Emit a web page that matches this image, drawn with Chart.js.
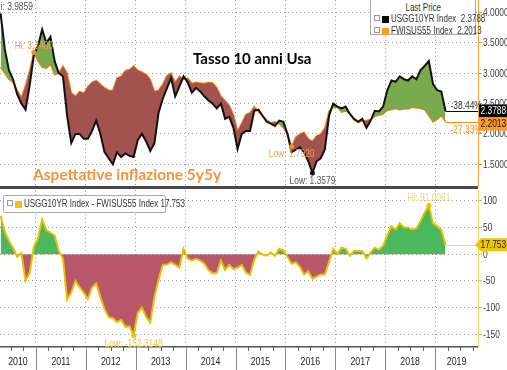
<!DOCTYPE html>
<html>
<head>
<meta charset="utf-8">
<script src="https://cdn.jsdelivr.net/npm/chart.js@4.4.1/dist/chart.umd.min.js"></script>
<style>
  body { margin: 0; background: #fff; width: 507px; height: 370px; overflow: hidden; position: relative; }
  canvas { position: absolute; left: 0; }
  #topChart { top: 0; }
  #botChart { top: 190px; }
  .t { font-family: 'Liberation Sans', Arial, sans-serif; font-size: 10px; color: #333; }
  .sep { position: absolute; left: 0; top: 186px; width: 478px; height: 3px; background: #4a4a4a; }
  .box { position: absolute; background: #fff; border: 1px solid #a8a8a8; box-sizing: border-box; }
  .row { height: 12px; line-height: 12px; white-space: nowrap; padding-left: 3px; }
  .pl { display: inline-block; width: 4px; height: 4px; border: 1px solid #999; margin-right: 2px; vertical-align: 1px; }
  .sq { display: inline-block; width: 7px; height: 7px; margin-right: 2px; vertical-align: -1px; }
  .nar { display: inline-block; transform: scaleX(0.8); transform-origin: left center; }
  .title { position: absolute; font-family: Lato, 'Open Sans', sans-serif; font-weight: bold; white-space: nowrap; }
</style>
</head>
<body>
<canvas id="topChart" width="507" height="186"></canvas>
<canvas id="botChart" width="507" height="180"></canvas>
<div class="sep"></div>

<div class="box t" style="left:370px;top:-1px;width:106px;height:36px;">
  <div style="text-align:center;margin-top:2px;height:11px;line-height:11px;"><span class="nar" style="transform-origin:center">Last Price</span></div>
  <div class="row"><span class="pl"></span><span class="sq" style="background:#000"></span><span id="lgA" class="nar"></span></div>
  <div class="row"><span class="pl"></span><span class="sq" style="background:#ff9a1e"></span><span id="lgB" class="nar"></span></div>
</div>
<div class="box t" style="left:3px;top:195px;width:163px;height:18px;border-radius:2px;">
  <div class="row" style="line-height:16px;height:16px;"><span class="pl"></span><span class="sq" style="background:#f0c400"></span><span id="lgC" class="nar"></span></div>
</div>

<div class="title" style="left:193px;top:49px;font-size:15px;color:#000;">Tasso 10 anni Usa</div>
<div class="title" style="left:33px;top:165px;font-size:15.5px;color:#f7923a;">Aspettative inflazione 5y5y</div>

<script>
// monthly observations, April 2010 - March 2019
const months = [
  '2010-04','2010-05','2010-06','2010-07','2010-08','2010-09','2010-10','2010-11','2010-12',
  '2011-01','2011-02','2011-03','2011-04','2011-05','2011-06','2011-07','2011-08','2011-09','2011-10','2011-11','2011-12',
  '2012-01','2012-02','2012-03','2012-04','2012-05','2012-06','2012-07','2012-08','2012-09','2012-10','2012-11','2012-12',
  '2013-01','2013-02','2013-03','2013-04','2013-05','2013-06','2013-07','2013-08','2013-09','2013-10','2013-11','2013-12',
  '2014-01','2014-02','2014-03','2014-04','2014-05','2014-06','2014-07','2014-08','2014-09','2014-10','2014-11','2014-12',
  '2015-01','2015-02','2015-03','2015-04','2015-05','2015-06','2015-07','2015-08','2015-09','2015-10','2015-11','2015-12',
  '2016-01','2016-02','2016-03','2016-04','2016-05','2016-06','2016-07','2016-08','2016-09','2016-10','2016-11','2016-12',
  '2017-01','2017-02','2017-03','2017-04','2017-05','2017-06','2017-07','2017-08','2017-09','2017-10','2017-11','2017-12',
  '2018-01','2018-02','2018-03','2018-04','2018-05','2018-06','2018-07','2018-08','2018-09','2018-10','2018-11','2018-12',
  '2019-01','2019-02','2019-03'
];

// USGG10YR Index (10y US Treasury yield, %)
const usgg10yr = [
  3.9859, 3.40, 3.05, 2.90, 2.65, 2.50, 2.40, 2.80, 3.30,
  3.45, 3.72, 3.50, 3.60, 3.20, 3.00, 2.95, 2.30, 1.85, 2.00, 2.00, 1.92,
  1.92, 2.05, 2.22, 2.00, 1.70, 1.60, 1.50, 1.70, 1.62, 1.68, 1.64, 1.62,
  1.90, 2.00, 1.88, 1.72, 1.85, 2.35, 2.58, 2.75, 2.92, 2.62, 2.78, 2.95,
  2.85, 2.68, 2.76, 2.70, 2.62, 2.55, 2.50, 2.42, 2.50, 2.25, 2.28, 2.10,
  1.75, 2.00, 2.05, 2.05, 2.38, 2.40, 2.30, 2.20, 2.17, 2.13, 2.22, 2.20,
  2.00, 1.70, 1.74, 1.78, 1.70, 1.55, 1.3579, 1.55, 1.60, 1.75, 2.30, 2.50,
  2.45, 2.42, 2.45, 2.33, 2.25, 2.20, 2.25, 2.10, 2.22, 2.38, 2.37, 2.45,
  2.72, 2.88, 2.86, 2.95, 2.90, 2.88, 2.95, 2.90, 3.05, 3.12, 3.20, 2.82,
  2.72, 2.70, 2.3788
];

// FWISUS55 Index (5y5y forward inflation swap, %)
const fwisus55 = [
  3.10, 3.00, 2.90, 2.85, 2.72, 2.60, 2.80, 3.05, 3.34,
  3.20, 3.10, 3.08, 3.15, 2.98, 3.00, 3.12, 3.00, 2.68, 2.62, 2.70, 2.67,
  2.78, 2.85, 2.88, 2.82, 2.76, 2.72, 2.72, 2.92, 2.95, 3.04, 3.06, 3.12,
  3.05, 3.02, 2.98, 2.90, 2.70, 2.72, 2.82, 2.96, 3.00, 2.85, 2.95, 2.90,
  2.92, 2.83, 2.85, 2.84, 2.83, 2.85, 2.84, 2.76, 2.62, 2.55, 2.47, 2.32,
  2.05, 2.18, 2.32, 2.35, 2.45, 2.37, 2.30, 2.23, 2.18, 2.20, 2.17, 2.10,
  2.00, 1.792, 1.95, 2.00, 2.03, 1.92, 1.88, 1.97, 2.00, 2.10, 2.38, 2.44,
  2.44, 2.36, 2.38, 2.33, 2.23, 2.19, 2.21, 2.22, 2.24, 2.29, 2.31, 2.33,
  2.39, 2.40, 2.42, 2.40, 2.41, 2.41, 2.44, 2.43, 2.42, 2.40, 2.30, 2.20,
  2.24, 2.30, 2.2013
];

// USGG10YR Index - FWISUS55 Index (basis points)
const spreadBp = [
  72, 42, 25, 12, -5, 2, -50, -35, 14,
  30, 65, 45, 40, 35, 6, -8, -85, -72, -50, -62, -72,
  -84, -62, -55, -80, -103, -118, -120, -127, -123, -136, -135, -152.3148,
  -110, -100, -117, -128, -80, -48, -20, -20, -15, -20, -25, 10,
  -8, -12, -9, -12, -18, -30, -36, -35, -12, -30, -20, -28,
  -25, -20, -34, -39, -10, 5, -1, -3, 3, -3, 10, 7,
  -5, -18, -15, -24, -38, -32, -46, -42, -38, -38, -15, 10,
  0, 12, 10, -3, 6, 6, 6, -8, 3, 12, 8, 16,
  35, 52, 46, 58, 50, 50, 46, 48, 62, 78, 91.0061, 58,
  52, 45, 17.753
];

const yearBreaks = [2011, 2012, 2013, 2014, 2015, 2016, 2017, 2018, 2019];
const yearLabels = ['2010', '2011', '2012', '2013', '2014', '2015', '2016', '2017', '2018', '2019'];
const topTicks = [1.5, 2.0, 2.5, 3.0, 3.5, 4.0];
const botTicks = [-150, -100, -50, 0, 50, 100];
const changeLabels = ['-38.44%', '-27.33%'];

const FONT = "'Liberation Sans', Arial, sans-serif";
const SQUEEZE = 0.8;
const BLACK = '#000000', ORANGE = '#ff8c14', GOLD = '#e9c000';
const GRID = '#9c9c9c';
const X_MIN = 2010.28, X_MAX = 2019.86;

const toYear = s => { const [y, m] = s.split('-').map(Number); return y + (m - 0.5) / 12; };
const xs = months.map(toYear);
const pts = arr => arr.map((v, i) => ({ x: xs[i], y: v }));
const last = arr => arr[arr.length - 1];
const argMax = arr => arr.indexOf(Math.max(...arr));
const argMin = arr => arr.indexOf(Math.min(...arr));

document.getElementById('lgA').textContent = 'USGG10YR Index\u00a0 ' + last(usgg10yr).toFixed(4);
document.getElementById('lgB').textContent = 'FWISUS55 Index\u00a0 ' + last(fwisus55).toFixed(4);
document.getElementById('lgC').textContent = 'USGG10YR Index - FWISUS55 Index 17.753';

// condensed text, the terminal font is narrower than anything installed
function txt(ctx, s, x, y, opt) {
  ctx.save();
  ctx.font = (opt.size || 10) + 'px ' + FONT;
  ctx.fillStyle = opt.color || '#333';
  ctx.textBaseline = opt.base || 'alphabetic';
  ctx.textAlign = opt.align || 'left';
  ctx.translate(x, y);
  ctx.scale(SQUEEZE, 1);
  ctx.fillText(s, 0, 0);
  ctx.restore();
}

function xScale(height, showBorder) {
  return {
    type: 'linear', min: X_MIN, max: X_MAX,
    afterBuildTicks: a => { a.ticks = yearBreaks.map(v => ({ value: v })); },
    ticks: { display: false },
    grid: { color: GRID, lineWidth: 1, drawTicks: false },
    border: { display: showBorder, color: '#555', width: 1.5, dash: [1, 3] },
    afterFit: a => { a.height = height; }
  };
}

function yScale(min, max, ticks, axisColor, tickColor) {
  return {
    position: 'right', min: min, max: max,
    afterBuildTicks: a => { a.ticks = ticks.map(v => ({ value: v })); },
    ticks: { display: false },
    grid: { color: GRID, tickColor: tickColor, tickLength: 4, tickBorderDash: [] },
    border: { color: axisColor, width: 1, dash: [1, 3] },
    afterFit: a => { a.width = 29; }
  };
}

function axisLabels(chart, ticks, fmt) {
  const { ctx, chartArea: ca, scales: { y } } = chart;
  ticks.forEach(v => {
    txt(ctx, fmt(v), ca.right + 5, y.getPixelForValue(v) + 0.5, { size: 10.5, color: '#3a3a3a', base: 'middle' });
  });
}

function dot(ctx, x, y, color) {
  ctx.beginPath(); ctx.arc(x, y, 2.5, 0, Math.PI * 2); ctx.fillStyle = color; ctx.fill();
}
function hline(ctx, x1, x2, y, color) {
  ctx.beginPath(); ctx.moveTo(x1, Math.round(y) + 0.5); ctx.lineTo(x2, Math.round(y) + 0.5);
  ctx.strokeStyle = color; ctx.lineWidth = 1; ctx.stroke();
}
function tag(ctx, x, y, fill, color, text, arrow) {
  const h = 13, w = 507 - x;
  ctx.beginPath();
  if (arrow) {
    ctx.moveTo(x - 4, y); ctx.lineTo(x + 2, y - h / 2); ctx.lineTo(x + w, y - h / 2);
    ctx.lineTo(x + w, y + h / 2); ctx.lineTo(x + 2, y + h / 2); ctx.closePath();
  } else {
    ctx.rect(x, y - h / 2, w, h);
  }
  ctx.fillStyle = fill; ctx.fill();
  txt(ctx, text, x + 1.5, y + 0.5, { size: 10.5, color: color, base: 'middle' });
}

const topMarks = {
  id: 'topMarks',
  afterDatasetsDraw(chart) {
    const { ctx, chartArea: ca, scales: { x, y } } = chart;
    const n = months.length - 1;
    const lx = x.getPixelForValue(xs[n]);
    const by = y.getPixelForValue(usgg10yr[n]);
    const oy = y.getPixelForValue(fwisus55[n]);
    ctx.save();
    axisLabels(chart, topTicks, v => v.toFixed(4));
    hline(ctx, lx, ca.right, by, BLACK);
    hline(ctx, lx, ca.right, oy, ORANGE);
    txt(ctx, changeLabels[0], lx + 5, by - 2, { size: 10.5, color: '#333' });
    txt(ctx, changeLabels[1], lx + 5, oy + 3, { size: 10.5, color: ORANGE, base: 'top' });

    // highs and lows
    const bh = argMax(usgg10yr), bl = argMin(usgg10yr);
    const oh = argMax(fwisus55), ol = argMin(fwisus55);
    let px = x.getPixelForValue(xs[bh]), py = y.getPixelForValue(usgg10yr[bh]);
    txt(ctx, 'Hi: ' + usgg10yr[bh].toFixed(4), px - 6, py - 3, { size: 10.5, color: '#555' });
    px = x.getPixelForValue(xs[bl]); py = y.getPixelForValue(usgg10yr[bl]);
    dot(ctx, px, py, '#111');
    txt(ctx, 'Low: ' + usgg10yr[bl].toFixed(4), px, py + 11, { size: 10.5, color: '#555', align: 'center' });
    px = x.getPixelForValue(xs[oh]); py = y.getPixelForValue(fwisus55[oh]);
    dot(ctx, px, py, ORANGE);
    txt(ctx, 'Hi: ' + fwisus55[oh].toFixed(4), px, py - 4, { size: 10.5, color: '#f5a050', align: 'center' });
    px = x.getPixelForValue(xs[ol]); py = y.getPixelForValue(fwisus55[ol]);
    dot(ctx, px, py, ORANGE);
    txt(ctx, 'Low: ' + fwisus55[ol].toFixed(4), px, py + 10, { size: 10.5, color: '#f5a050', align: 'center' });

    tag(ctx, ca.right + 1, by, '#000', '#fff', usgg10yr[n].toFixed(4));
    tag(ctx, ca.right + 1, Math.max(oy, by + 13), '#ff9a1e', '#111', fwisus55[n].toFixed(4));
    ctx.restore();
  }
};

const botMarks = {
  id: 'botMarks',
  afterDatasetsDraw(chart) {
    const { ctx, chartArea: ca, scales: { x, y } } = chart;
    const n = months.length - 1;
    ctx.save();
    axisLabels(chart, botTicks, v => String(v));
    const lx = x.getPixelForValue(xs[n]);
    const sy = y.getPixelForValue(spreadBp[n]);
    hline(ctx, lx, ca.right, sy, '#f3d27c');

    const hi = argMax(spreadBp), lo = argMin(spreadBp);
    let px = x.getPixelForValue(xs[hi]), py = y.getPixelForValue(spreadBp[hi]);
    dot(ctx, px, py, GOLD);
    txt(ctx, 'Hi: ' + spreadBp[hi].toFixed(4), px, py - 4, { size: 10.5, color: '#ecd27a', align: 'center' });
    px = x.getPixelForValue(xs[lo]); py = y.getPixelForValue(spreadBp[lo]);
    dot(ctx, px, py, GOLD);
    txt(ctx, 'Low: ' + spreadBp[lo].toFixed(4), px, py + 11, { size: 10.5, color: '#e6c64a', align: 'center' });

    tag(ctx, ca.right + 1, sy, '#f2c500', '#222', String(spreadBp[n]), true);

    // year separators, quarter ticks and labels under the axis
    ctx.strokeStyle = '#8a8a8a'; ctx.lineWidth = 1;
    yearBreaks.forEach(v => {
      const p = Math.round(x.getPixelForValue(v)) + 0.5;
      ctx.beginPath(); ctx.moveTo(p, ca.bottom); ctx.lineTo(p, chart.height); ctx.stroke();
    });
    ctx.strokeStyle = '#666';
    [2010].concat(yearBreaks).forEach(yr => {
      [0.25, 0.5, 0.75].forEach(q => {
        const p = Math.round(x.getPixelForValue(yr + q)) + 0.5;
        if (p < ca.left || p > ca.right) return;
        ctx.beginPath(); ctx.moveTo(p, ca.bottom); ctx.lineTo(p, ca.bottom + 4); ctx.stroke();
      });
    });
    const edges = [X_MIN].concat(yearBreaks, [X_MAX]);
    yearLabels.forEach((lab, i) => {
      const a = x.getPixelForValue(edges[i]), b = x.getPixelForValue(edges[i + 1]);
      txt(ctx, lab, (a + b) / 2, ca.bottom + 15, { size: 11, color: '#222', align: 'center', base: 'middle' });
    });
    ctx.restore();
  }
};

const common = {
  responsive: false,
  animation: false,
  layout: { padding: 0 },
  plugins: { legend: { display: false }, tooltip: { enabled: false } }
};

new Chart(document.getElementById('topChart'), {
  type: 'line',
  data: {
    datasets: [{
      label: 'USGG10YR Index',
      data: pts(usgg10yr),
      borderColor: '#111',
      borderWidth: 2,
      pointRadius: 0,
      tension: 0,
      fill: { target: 1, above: '#78aa4e', below: '#a2534f' }
    }, {
      label: 'FWISUS55 Index',
      data: pts(fwisus55),
      borderColor: ORANGE,
      borderWidth: 1.6,
      pointRadius: 0,
      tension: 0,
      fill: false
    }]
  },
  options: Object.assign({}, common, {
    scales: {
      x: xScale(0, false),
      y: yScale(1.143, 4.206, topTicks, '#f7a040', '#f08a00')
    }
  }),
  plugins: [topMarks]
});

new Chart(document.getElementById('botChart'), {
  type: 'line',
  data: {
    datasets: [{
      label: 'USGG10YR Index - FWISUS55 Index',
      data: pts(spreadBp),
      borderColor: GOLD,
      borderWidth: 2,
      pointRadius: 0,
      tension: 0,
      fill: { target: { value: 0 }, above: '#4bb85e', below: '#b8566a' }
    }]
  },
  options: Object.assign({}, common, {
    scales: {
      x: xScale(23, true),
      y: yScale(-173.8, 120, botTicks, '#f2d66e', GOLD)
    }
  }),
  plugins: [botMarks]
});
</script>
</body>
</html>
